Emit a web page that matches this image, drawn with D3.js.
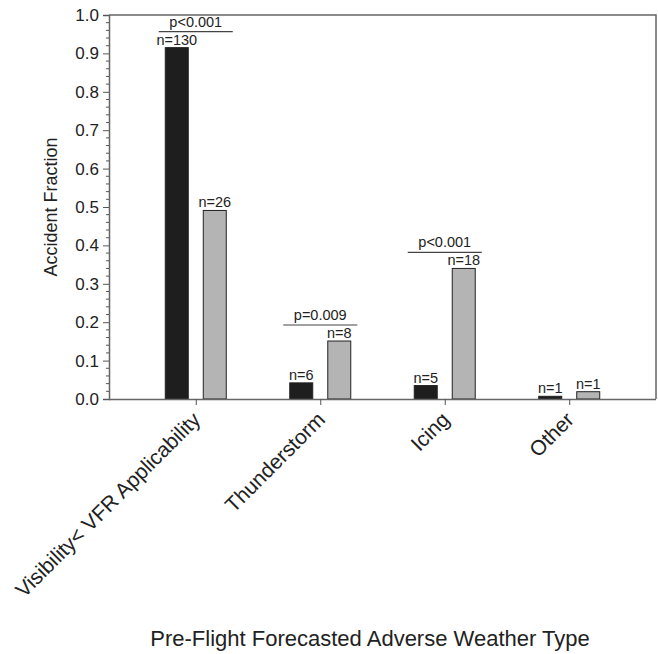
<!DOCTYPE html>
<html>
<head>
<meta charset="utf-8">
<script src="https://cdn.jsdelivr.net/npm/d3@7"></script>
<style>
  html, body { margin: 0; padding: 0; background: #fff; }
  svg { display: block; }
  text { font-family: "Liberation Sans", Arial, sans-serif; fill: #222; }
</style>
</head>
<body>
<svg id="chart" width="658" height="654"></svg>
<script>
// ---- data ----
const categories = ["Visibility< VFR Applicability", "Thunderstorm", "Icing", "Other"];
const seriesNames = ["black", "grey"];
const blackValues = [0.915, 0.042, 0.035, 0.007];
const greyValues  = [0.491, 0.151, 0.340, 0.019];
const blackCounts = ["n=130", "n=6", "n=5", "n=1"];
const greyCounts  = ["n=26", "n=8", "n=18", "n=1"];
const pLabels     = ["p<0.001", "p=0.009", "p<0.001", null];
const yTicks = [0, 0.1, 0.2, 0.3, 0.4, 0.5, 0.6, 0.7, 0.8, 0.9, 1.0];

// ---- layout ----
const svg = d3.select("#chart");
const mLeft = 109, mRight = 656, mTop = 15, mBottom = 399;

const y = d3.scaleLinear().domain([0, 1]).range([mBottom, mTop]);
const x = d3.scalePoint().domain(categories).range([mLeft, mRight]).padding(0.697);
const inner = d3.scaleBand().domain(seriesNames).range([-30.5, 30.5]).paddingInner(0.395).paddingOuter(0);

const colors = { black: "#1e1e1e", grey: "#b4b4b4" };

const rows = categories.map((c, i) => ({
  cat: c,
  bars: [
    { s: "black", v: blackValues[i], n: blackCounts[i] },
    { s: "grey",  v: greyValues[i],  n: greyCounts[i] }
  ],
  p: pLabels[i]
}));

// frame (top & right)
svg.append("path")
  .attr("d", `M${mLeft},${mTop}H${mRight}V${mBottom}`)
  .attr("fill", "none").attr("stroke", "#666").attr("stroke-width", 1.5);

// bars
const g = svg.append("g");
rows.forEach(r => {
  const cx = x(r.cat);
  r.bars.forEach(b => {
    const bx = cx + inner(b.s);
    g.append("rect")
      .attr("x", bx).attr("y", y(b.v))
      .attr("width", inner.bandwidth())
      .attr("height", y(0) - y(b.v))
      .attr("fill", colors[b.s])
      .attr("stroke", "#222").attr("stroke-width", 1);
    g.append("text")
      .attr("x", bx + inner.bandwidth() / 2)
      .attr("y", y(b.v) - 3)
      .attr("text-anchor", "middle")
      .attr("font-size", 14.5)
      .text(b.n);
  });
  if (r.p) {
    const lineY = Math.min(...r.bars.map(b => y(b.v))) - 16;
    g.append("line")
      .attr("x1", cx - 37).attr("x2", cx + 37)
      .attr("y1", lineY).attr("y2", lineY)
      .attr("stroke", "#444").attr("stroke-width", 1.2);
    g.append("text")
      .attr("x", cx).attr("y", lineY - 5)
      .attr("text-anchor", "middle")
      .attr("font-size", 14.5)
      .text(r.p);
  }
});

// y axis
const yAxis = d3.axisLeft(y).tickValues(yTicks).tickFormat(d3.format(".1f")).tickSize(6).tickPadding(4);
const ya = svg.append("g").attr("transform", `translate(${mLeft},0)`).call(yAxis);
ya.select(".domain").attr("stroke", "#666").attr("stroke-width", 1.5);
ya.selectAll(".tick line").attr("stroke", "#555");
ya.selectAll(".tick text").attr("font-size", 17).attr("font-family", "Liberation Sans, Arial, sans-serif").attr("fill", "#222");
// minor ticks
const minor = d3.range(0, 1.0001, 0.02).filter(v => Math.abs(Math.round(v * 10) - v * 10) > 1e-6);
svg.append("g").selectAll("line").data(minor).join("line")
  .attr("x1", mLeft - 3).attr("x2", mLeft)
  .attr("y1", d => y(d)).attr("y2", d => y(d))
  .attr("stroke", "#555").attr("stroke-width", 1);

// x axis
const xAxis = d3.axisBottom(x).tickSize(6).tickFormat("");
const xa = svg.append("g").attr("transform", `translate(0,${mBottom})`).call(xAxis);
xa.select(".domain").attr("d", `M${mLeft},0.5H${mRight}`).attr("stroke", "#666").attr("stroke-width", 1.5);
xa.selectAll(".tick line").attr("stroke", "#555");

// category labels
svg.append("g").selectAll("text").data(categories).join("text")
  .attr("transform", d => `translate(${x(d) + 6},${mBottom + 22}) rotate(-45)`)
  .attr("text-anchor", "end")
  .attr("font-size", 21)
  .text(d => d);

// axis titles
svg.append("text")
  .attr("transform", `translate(57,${(mTop + mBottom) / 2}) rotate(-90)`)
  .attr("text-anchor", "middle")
  .attr("font-size", 18)
  .text("Accident Fraction");

svg.append("text")
  .attr("x", 370).attr("y", 646)
  .attr("text-anchor", "middle")
  .attr("font-size", 22)
  .text("Pre-Flight Forecasted Adverse Weather Type");
</script>
</body>
</html>
